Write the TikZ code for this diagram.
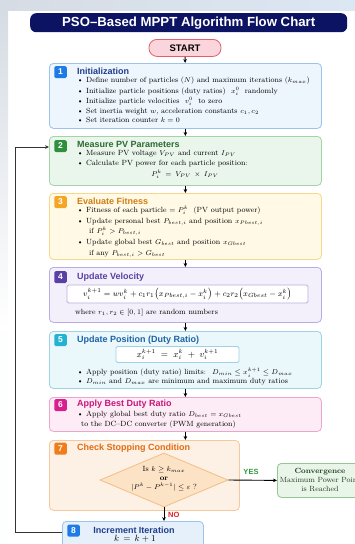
\documentclass[tikz,border=0pt]{standalone}
\usepackage{fontspec}
\newfontfamily\hd{Liberation Sans}
\usetikzlibrary{arrows.meta,shapes.geometric,calc}
\definecolor{navy}{HTML}{0C1363}
\definecolor{stfill}{HTML}{FBD5DC}\definecolor{stdraw}{HTML}{E0606E}
\definecolor{aF}{HTML}{EDF5FD}\definecolor{aD}{HTML}{9DC3EC}\definecolor{aB}{HTML}{1E7BE6}\definecolor{aT}{HTML}{1F3C8C}
\definecolor{bF}{HTML}{EAF6EC}\definecolor{bD}{HTML}{A5D3A9}\definecolor{bB}{HTML}{2E8F3C}\definecolor{bT}{HTML}{2D6A30}
\definecolor{cF}{HTML}{FFF9E6}\definecolor{cD}{HTML}{F7D88A}\definecolor{cB}{HTML}{F5A524}\definecolor{cT}{HTML}{D07F14}
\definecolor{dF}{HTML}{F3F0FB}\definecolor{dD}{HTML}{B9ADDF}\definecolor{dB}{HTML}{5A3FA6}\definecolor{dT}{HTML}{5A3FA6}
\definecolor{eF}{HTML}{EAF7FB}\definecolor{eD}{HTML}{9ED3E3}\definecolor{eB}{HTML}{22B2D2}\definecolor{eT}{HTML}{1E63A6}
\definecolor{fF}{HTML}{FDECF5}\definecolor{fD}{HTML}{EBA6CB}\definecolor{fB}{HTML}{D81F8D}\definecolor{fT}{HTML}{C7177D}
\definecolor{gF}{HTML}{FDF0E5}\definecolor{gD}{HTML}{F6C89E}\definecolor{gB}{HTML}{F07D1C}\definecolor{gT}{HTML}{E06C12}
\definecolor{dmF}{HTML}{FDE3C6}\definecolor{dmD}{HTML}{F4BE84}
\definecolor{cvF}{HTML}{E8F5E8}\definecolor{cvD}{HTML}{95C795}\definecolor{cvT}{HTML}{1E3F1E}
\definecolor{hF}{HTML}{E5F0FB}
\definecolor{yescol}{HTML}{2E9A3A}\definecolor{nocol}{HTML}{E0202A}
\definecolor{fbcol}{HTML}{333333}
\definecolor{bgA}{HTML}{D6DCE4}\definecolor{bgB}{HTML}{DCE7F4}
\newcommand{\bl}{\makebox[9pt][l]{\textbullet}}
\tikzset{
  box/.style={draw, rounded corners=4pt, line width=0.8pt, anchor=north west, inner sep=0},
  badge/.style={rounded corners=1.5pt, minimum width=12.5pt, minimum height=12pt, inner sep=0, text=white, font=\hd\bfseries\fontsize{8.5}{8.5}\selectfont},
  ttl/.style={anchor=west, inner sep=0, font=\hd\bfseries\fontsize{9}{9}\selectfont},
  txt/.style={anchor=west, inner sep=0, text height=5pt, text depth=1.5pt, font=\fontsize{7.5}{8}\selectfont},
  ctxt/.style={txt, anchor=center},
  fbox/.style={draw, fill=white, rounded corners=1.5pt, line width=0.8pt, inner sep=0},
  arr/.style={-{Stealth[length=4pt,width=3.6pt]}, line width=0.9pt},
}
\begin{document}
\begin{tikzpicture}[x=1pt,y=-1pt]
\useasboundingbox (0,0) rectangle (355,544);
\clip (0,0) rectangle (355,544);
% background
\fill[white] (0,0) rectangle (355,544);
\shade[left color=bgA, right color=bgB] (0,0) rectangle (355,10);
\shade[top color=bgA, bottom color=white] (0,10) rectangle (8,330);
\fill[white!96!bgA] (0,330) rectangle (8,544);
% title
\node[fill=navy, rounded corners=6pt, anchor=north west, minimum width=317pt, minimum height=19pt, inner sep=0, text=white, font=\hd\bfseries\fontsize{13.2}{13.2}\selectfont] (title) at (30,13) {PSO–Based MPPT Algorithm Flow Chart};
% start
\node[draw=stdraw, fill=stfill, line width=0.8pt, rounded corners=8pt, anchor=north, minimum width=72pt, minimum height=17pt, inner sep=0, font=\hd\bfseries\fontsize{9.5}{9.5}\selectfont] (start) at (185,39) {START};

% box 1
\node[box, draw=aD, fill=aF, minimum width=272pt, minimum height=65pt] (b1) at (49,63) {};
\node[badge, fill=aB] (n1) at (60.5,72) {1};
\node[ttl, text=aT] (t1) at (77,71) {Initialization};
\node[txt] (l11) at (77,81) {\bl Define number of particles ($N$) and maximum iterations ($k_{max}$)};
\node[txt] (l12) at (77,91.5) {\bl Initialize particle positions (duty ratios) \ $x_i^0$ \ randomly};
\node[txt] (l13) at (77,101.5) {\bl Initialize particle velocities \ $v_i^0$ \ to zero};
\node[txt] (l14) at (77,111.5) {\bl Set inertia weight $w$, acceleration constants $c_1, c_2$};
\node[txt] (l15) at (77,121) {\bl Set iteration counter $k = 0$};

% box 2
\node[box, draw=bD, fill=bF, minimum width=272pt, minimum height=49pt] (b2) at (49,136) {};
\node[badge, fill=bB] (n2) at (60.5,146) {2};
\node[ttl, text=bT] (t2) at (77,144) {Measure PV Parameters};
\node[txt] (l21) at (77,154) {\bl Measure PV voltage $V_{PV}$ and current $I_{PV}$};
\node[txt] (l22) at (77,164) {\bl Calculate PV power for each particle position:};
\node[ctxt] (l23) at (185,175) {$P_i^k \,=\, V_{PV} \,\times\, I_{PV}$};

% box 3
\node[box, draw=cD, fill=cF, minimum width=272pt, minimum height=66pt] (b3) at (49,193) {};
\node[badge, fill=cB] (n3) at (60.5,202) {3};
\node[ttl, text=cT] (t3) at (77,201) {Evaluate Fitness};
\node[txt] (l31) at (77,211) {\bl Fitness of each particle $= P_i^k$ \ (PV output power)};
\node[txt] (l32) at (77,222) {\bl Update personal best $P_{best,i}$ and position $x_{Pbest,i}$};
\node[txt] (l33) at (89,232) {if $P_i^k > P_{best,i}$};
\node[txt] (l34) at (77,243) {\bl Update global best $G_{best}$ and position $x_{Gbest}$};
\node[txt] (l35) at (89,254) {if any $P_{best,i} > G_{best}$};

% box 4
\node[box, draw=dD, fill=dF, minimum width=272pt, minimum height=55pt] (b4) at (49,267) {};
\node[badge, fill=dB] (n4) at (60.5,277) {4};
\node[ttl, text=dT] (t4) at (77,277) {Update Velocity};
\node[fbox, draw=dD, minimum width=241pt, minimum height=18pt, font=\fontsize{8.3}{9}\selectfont] (f4) at (187.5,294) {$v_i^{k+1} = w v_i^k + c_1 r_1 \bigl(x_{Pbest,i} - x_i^k\bigr) + c_2 r_2 \bigl(x_{Gbest} - x_i^k\bigr)$};
\node[txt] (l41) at (75,313) {where $r_1, r_2 \in [0,1]$ are random numbers};

% box 5
\node[box, draw=eD, fill=eF, minimum width=272pt, minimum height=57pt] (b5) at (49,331) {};
\node[badge, fill=eB] (n5) at (60.5,340) {5};
\node[ttl, text=eT] (t5) at (77,340) {Update Position (Duty Ratio)};
\node[fbox, draw=eD, minimum width=123pt, minimum height=16pt, font=\fontsize{9}{10}\selectfont] (f5) at (177.5,354.5) {$x_i^{k+1} \;=\; x_i^k \;+\; v_i^{k+1}$};
\node[txt] (l51) at (77,373) {\bl Apply position (duty ratio) limits: \ $D_{min} \le x_i^{k+1} \le D_{max}$};
\node[txt] (l52) at (77,382) {\bl $D_{min}$ and $D_{max}$ are minimum and maximum duty ratios};

% box 6
\node[box, draw=fD, fill=fF, minimum width=272pt, minimum height=34pt] (b6) at (49,397) {};
\node[badge, fill=fB] (n6) at (60.5,405) {6};
\node[ttl, text=fT] (t6) at (77,404) {Apply Best Duty Ratio};
\node[txt] (l61) at (77,415) {\bl Apply global best duty ratio $D_{best} = x_{Gbest}$};
\node[txt] (l62) at (81,424.5) {to the DC–DC converter (PWM generation)};

% box 7
\node[box, draw=gD, fill=gF, minimum width=190pt, minimum height=70pt] (b7) at (49,440) {};
\node[badge, fill=gB] (n7) at (60.5,448.5) {7};
\node[ttl, text=gT] (t7) at (77,448) {Check Stopping Condition};
\node[diamond, draw=dmD, fill=dmF, line width=0.8pt, minimum width=128pt, minimum height=54pt, inner sep=0] (dm) at (164,480) {};
\node[ctxt] (d1) at (164,470) {Is $k \ge k_{max}$};
\node[ctxt] (d2) at (164,478.5) {\textbf{or}};
\node[ctxt] (d3) at (164,487.5) {$|P^k - P^{k-1}| \le \varepsilon$ ?};

% convergence
\node[draw=cvD, fill=cvF, line width=0.8pt, rounded corners=4pt, anchor=north west, minimum width=88pt, minimum height=34pt, inner sep=0] (cv) at (277,463) {};
\node[ctxt, text=cvT, font=\bfseries\fontsize{7.5}{8}\selectfont] (c1) at (320,472) {Convergence};
\node[ctxt, text=cvT, font=\fontsize{7.5}{8}\selectfont] (c2) at (320,481) {Maximum Power Point};
\node[ctxt, text=cvT, font=\fontsize{7.5}{8}\selectfont] (c3) at (320,490) {is Reached};

% box 8
\node[box, draw=aD, fill=hF, minimum width=141pt, minimum height=30pt] (b8) at (62,521) {};
\node[badge, fill=aB] (n8) at (73.5,530.5) {8};
\node[ttl, text=aT, anchor=center] (t8) at (134,530) {Increment Iteration};
\node[ctxt, font=\fontsize{9}{10}\selectfont] (l81) at (135,540) {$k \,=\, k + 1$};

% connectors
\draw[arr] (start) -- (b1);
\draw[arr] (b1) -- (b2);
\draw[arr] (b2) -- (b3);
\draw[arr] (b3) -- (b4);
\draw[arr] (b4) -- (b5);
\draw[arr] (b5) -- (b6);
\draw[arr] (b6.south) -- (b6.south |- b7.north);
\draw[arr] (dm.east) -- (cv.west);
\draw[arr] (dm.south) -- (dm.south |- b8.north);
\node[font=\hd\bfseries\fontsize{7.5}{7.5}\selectfont, text=yescol, inner sep=0] (yes) at (251,472) {YES};
\node[font=\hd\bfseries\fontsize{7.5}{7.5}\selectfont, text=nocol, inner sep=0, anchor=west] (no) at (168,515) {NO};
\coordinate (fbin) at ($(b2.north west)+(0,11)$);
\draw[arr, draw=fbcol] ([yshift=4pt]b8.west) -- ++(-47,0) |- (fbin);
\end{tikzpicture}
\end{document}
